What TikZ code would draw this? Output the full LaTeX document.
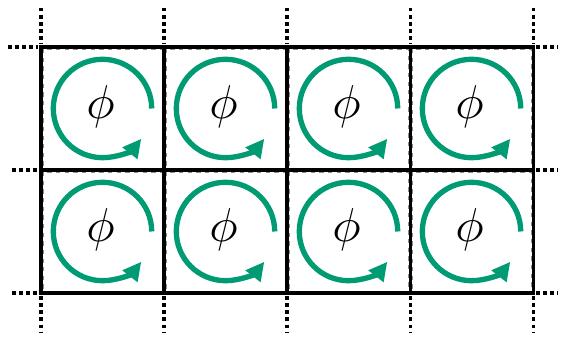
\documentclass[tikz,border=0pt]{standalone}
\usetikzlibrary{arrows.meta, calc}
\definecolor{vortexGreen}{HTML}{009B72}
\tikzset{
  gridline/.style = {line width=2.1pt, black},
  gridext/.style  = {line width=2.1pt, black, dash pattern=on 2.4pt off 2.5pt},
  cellfrm/.style  = {line width=0.4pt, black!45, dashed},
  swirl/.style    = {vortexGreen, line width=3.7pt,
                     -{Triangle[length=4.5mm, width=4.4mm]}},
  phlbl/.style    = {scale=3.3, inner sep=0pt},
}

\begin{document}
\begin{tikzpicture}
  \useasboundingbox (-1.0,1.146) rectangle (12.707,-7.073);
  % thin dashed cell frames
  \foreach \i in {0,...,3}
    \foreach \j in {0,1}
      \draw[cellfrm] (3*\i+0.05,-3*\j-0.05) rectangle (3*\i+2.95,-3*\j-2.95);
  % dotted extensions of the lattice
  \foreach \x in {0,3,...,12} {
    \draw[gridext] (\x,0.95) -- (\x,0.08);
    \draw[gridext] (\x,-6.08) -- (\x,-6.95);
  }
  \draw[gridext] (-0.8,0) -- (-0.08,0);
  \foreach \y in {-3,-6}
    \draw[gridext] (-0.7,\y) -- (-0.08,\y);
  \foreach \y in {0,-3,-6}
    \draw[gridext] (12.08,\y) -- (12.6,\y);
  % solid lattice
  \draw[gridline] (0,0) rectangle (12,-6);
  \draw[gridline] (0,-3) -- (12,-3);
  \foreach \x in {3,6,9}
    \draw[gridline] (\x,0) -- (\x,-6);
  % circulation in every cell
  \foreach \i in {0,...,3}
    \foreach \j in {0,1} {
      \node[phlbl] (phi-\i-\j) at (3*\i+1.45,-3*\j-1.45) {$\phi$};
      \draw[swirl] ($(3*\i+1.5,-3*\j-1.5)+(0:1.2)$)
        arc[start angle=0, end angle=322, radius=1.2];
    }
\end{tikzpicture}
\end{document}
